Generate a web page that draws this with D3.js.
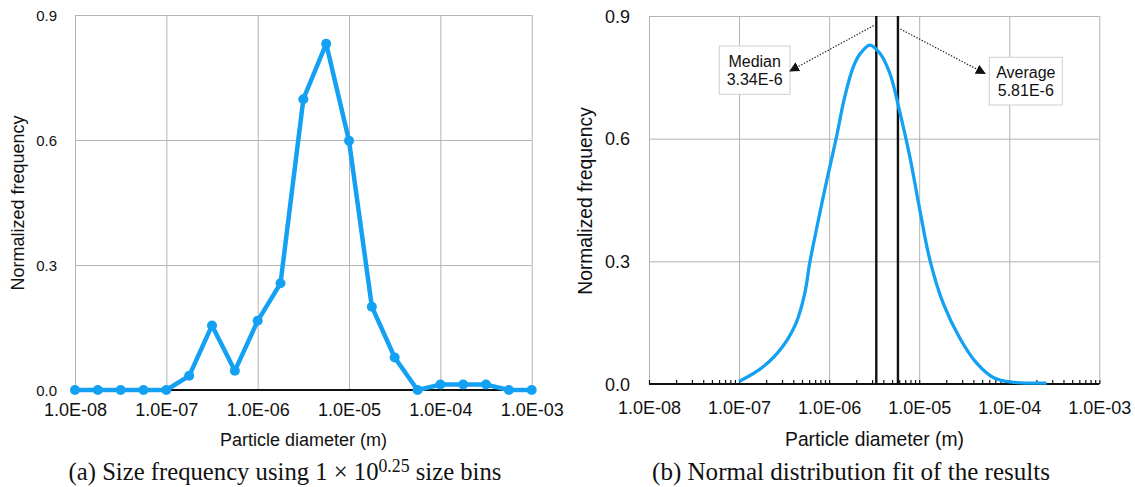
<!DOCTYPE html>
<html>
<head>
<meta charset="utf-8">
<script src="https://cdn.jsdelivr.net/npm/d3@7"></script>
<style>
  html, body { margin: 0; padding: 0; background: #fff; }
  svg { display: block; }
  text { font-family: "Liberation Sans", Arial, Helvetica, sans-serif; fill: #111; }
</style>
</head>
<body>
<svg id="chart" width="1135" height="487"></svg>
<script>
// ---------------- DATA ----------------
// (a) size-bin histogram (bins of 10^0.25)
const binDiameters = [1e-8, 1.778e-8, 3.162e-8, 5.623e-8, 1e-7, 1.778e-7, 3.162e-7, 5.623e-7,
  1e-6, 1.778e-6, 3.162e-6, 5.623e-6, 1e-5, 1.778e-5, 3.162e-5, 5.623e-5,
  1e-4, 1.778e-4, 3.162e-4, 5.623e-4, 1e-3];
const binFrequency = [0, 0, 0, 0, 0, 0.034, 0.155, 0.046, 0.166, 0.256, 0.698, 0.831,
  0.598, 0.200, 0.078, 0, 0.013, 0.013, 0.013, 0, 0];

// (b) fitted distribution
const fitDiameters = [1e-7, 1.85e-7, 3.08e-7, 4.35e-7, 5.37e-7, 6.1e-7, 7.55e-7, 9.35e-7,
  1.19e-6, 1.49e-6, 1.85e-6, 2.2e-6, 2.83e-6, 3.66e-6, 4.72e-6, 6.1e-6, 7.89e-6,
  1e-5, 1.31e-5, 1.85e-5, 2.83e-5, 4.35e-5, 6.64e-5, 1.02e-4, 2.6e-4];
const fitFrequency = [0.006, 0.042, 0.093, 0.152, 0.222, 0.297, 0.398, 0.495,
  0.598, 0.702, 0.775, 0.807, 0.829, 0.809, 0.760, 0.665, 0.555,
  0.434, 0.305, 0.197, 0.112, 0.051, 0.016, 0.005, 0.002];

const medianValue = 3.34e-6;
const averageValue = 5.81e-6;
const annotationLabels = [["Median", "3.34E-6"], ["Average", "5.81E-6"]];

const xTickValues = [1e-8, 1e-7, 1e-6, 1e-5, 1e-4, 1e-3];
const xTickLabels = ["1.0E-08", "1.0E-07", "1.0E-06", "1.0E-05", "1.0E-04", "1.0E-03"];
const yTickValues = [0, 0.3, 0.6, 0.9];
const yTickLabels = ["0.0", "0.3", "0.6", "0.9"];
const xTitle = "Particle diameter (m)";
const yTitle = "Normalized frequency";

// ---------------- DRAW ----------------
const svg = d3.select("#chart");
const BLUE = "#14a0f3";
const GRID = "#b4b4b4";

function panel(cfg) {
  const g = svg.append("g");
  const x = d3.scaleLog().domain([1e-8, 1e-3]).range([cfg.x0, cfg.x1]);
  const y = d3.scaleLinear().domain([0, 0.9]).range([cfg.y0, cfg.y1]);

  g.append("g")
    .attr("transform", `translate(0,${cfg.y0})`)
    .call(d3.axisBottom(x).tickValues(xTickValues).tickSize(-(cfg.y0 - cfg.y1)).tickFormat(""))
    .call(a => a.select(".domain").remove())
    .call(a => a.selectAll("line").attr("stroke", GRID).attr("stroke-width", 1));
  g.append("g")
    .attr("transform", `translate(${cfg.x0},0)`)
    .call(d3.axisLeft(y).tickValues(yTickValues.slice(1)).tickSize(-(cfg.x1 - cfg.x0)).tickFormat(""))
    .call(a => a.select(".domain").remove())
    .call(a => a.selectAll("line").attr("stroke", GRID).attr("stroke-width", 1));

  if (cfg.minor) {
    const minor = [];
    xTickValues.slice(0, -1).forEach(d => { for (let m = 2; m <= 9; m++) minor.push(d * m); });
    g.append("g")
      .attr("transform", `translate(0,${cfg.y0})`)
      .call(d3.axisBottom(x).tickValues(minor.concat(xTickValues)).tickSize(-4).tickFormat(""))
      .call(a => a.select(".domain").remove())
      .call(a => a.selectAll("line").attr("stroke", "#111").attr("stroke-width", 1.2));
  }

  g.append("line")
    .attr("x1", cfg.x0).attr("x2", cfg.x1)
    .attr("y1", y(0)).attr("y2", y(0))
    .attr("stroke", "#111").attr("stroke-width", 2);

  const xa = g.append("g")
    .attr("transform", `translate(0,${cfg.y0})`)
    .call(d3.axisBottom(x).tickValues(xTickValues).tickSize(0)
      .tickFormat((d, i) => xTickLabels[i]));
  xa.select(".domain").remove();
  xa.selectAll("text").attr("y", cfg.xLabOff).attr("dy", "0.35em")
    .style("font-size", cfg.xFont + "px").style("fill", "#111")
    .style("font-family", '"Liberation Sans", Arial, sans-serif');

  const ya = g.append("g")
    .attr("transform", `translate(${cfg.yLabRight},0)`)
    .call(d3.axisLeft(y).tickValues(yTickValues).tickSize(0)
      .tickFormat((d, i) => yTickLabels[i]));
  ya.select(".domain").remove();
  ya.selectAll("text").attr("x", 0).attr("dy", "0.35em")
    .style("font-size", cfg.yFont + "px").style("fill", "#111")
    .style("font-family", '"Liberation Sans", Arial, sans-serif');

  g.append("text").attr("x", cfg.xTitleX).attr("y", cfg.xTitleY).attr("dy", "0.35em")
    .attr("text-anchor", "middle").style("font-size", cfg.titleFont + "px").text(xTitle);
  g.append("text")
    .attr("transform", `translate(${cfg.yTitleX},${cfg.yTitleY}) rotate(-90)`)
    .attr("dy", "0.35em").attr("text-anchor", "middle")
    .style("font-size", cfg.titleFont + "px").text(yTitle);

  return { g, x, y };
}

// ---- Panel (a)
const A = panel({ x0: 75, x1: 531.7, y0: 390, y1: 15, xLabOff: 20, xFont: 18, yFont: 15,
  yLabRight: 57, xTitleX: 303.5, xTitleY: 440, yTitleX: 18, yTitleY: 203, titleFont: 18 });
const lineA = d3.line().x((d, i) => A.x(binDiameters[i])).y(d => A.y(d));
A.g.append("path").datum(binFrequency)
  .attr("d", lineA).attr("fill", "none").attr("stroke", BLUE)
  .attr("stroke-width", 4.5).attr("stroke-linejoin", "round");
A.g.selectAll("circle.pt").data(binFrequency).join("circle")
  .attr("cx", (d, i) => A.x(binDiameters[i])).attr("cy", d => A.y(d))
  .attr("r", 5).attr("fill", BLUE);

// ---- Panel (b)
const B = panel({ x0: 649, x1: 1099.3, y0: 384, y1: 16, xLabOff: 24, xFont: 18, yFont: 18,
  yLabRight: 630, xTitleX: 874.5, xTitleY: 439, yTitleX: 585, yTitleY: 201, titleFont: 19.3, minor: true });

[medianValue, averageValue].forEach(v => {
  B.g.append("line")
    .attr("x1", B.x(v)).attr("x2", B.x(v)).attr("y1", B.y(0)).attr("y2", B.y(0.9))
    .attr("stroke", "#111").attr("stroke-width", 2.4);
});

const lineB = d3.line().curve(d3.curveCatmullRom.alpha(0.5))
  .x((d, i) => B.x(fitDiameters[i])).y(d => B.y(d));
B.g.append("path").datum(fitFrequency)
  .attr("d", lineB).attr("fill", "none").attr("stroke", BLUE)
  .attr("stroke-width", 3.3).attr("stroke-linecap", "butt");

// annotations
const defs = svg.append("defs");
defs.append("marker").attr("id", "arrow").attr("viewBox", "0 0 10 10")
  .attr("refX", 9).attr("refY", 5).attr("markerWidth", 10).attr("markerHeight", 10)
  .attr("markerUnits", "userSpaceOnUse").attr("orient", "auto")
  .append("path").attr("d", "M0,0 L10,5 L0,10 Z").attr("fill", "#111");

const annos = [
  { from: [B.x(medianValue), B.y(0.88)], to: [790, 71], box: [719.3, 46, 70.7, 48.3], lab: annotationLabels[0] },
  { from: [B.x(averageValue) + 2.5, B.y(0.868)], to: [985, 73.5], box: [989.3, 57.3, 73, 47.7], lab: annotationLabels[1] }
];
annos.forEach(a => {
  B.g.append("rect").attr("x", a.box[0]).attr("y", a.box[1]).attr("width", a.box[2]).attr("height", a.box[3])
    .attr("fill", "#fff").attr("stroke", "#cfcfcf").attr("stroke-width", 1);
  B.g.append("line")
    .attr("x1", a.from[0]).attr("y1", a.from[1]).attr("x2", a.to[0]).attr("y2", a.to[1])
    .attr("stroke", "#222").attr("stroke-width", 1.2).attr("stroke-dasharray", "1.4,1.6")
    .attr("marker-end", "url(#arrow)");
  const cx = a.box[0] + a.box[2] / 2;
  const cy = a.box[1] + a.box[3] / 2;
  B.g.append("text").attr("x", cx).attr("y", cy - 8.5).attr("dy", "0.35em")
    .attr("text-anchor", "middle").style("font-size", "16px").text(a.lab[0]);
  B.g.append("text").attr("x", cx).attr("y", cy + 9.5).attr("dy", "0.35em")
    .attr("text-anchor", "middle").style("font-size", "16px").text(a.lab[1]);
});

// captions
function caption(cx, cy, targetW, parts) {
  const t = svg.append("text").attr("x", cx).attr("y", cy).attr("dy", "0.35em")
    .attr("text-anchor", "middle")
    .style("font-family", '"Liberation Serif", "DejaVu Serif", serif')
    .style("font-size", "18px");
  parts.forEach(p => {
    const ts = t.append("tspan").text(p.t);
    if (p.sup) ts.attr("dy", "-0.45em").style("font-size", "0.72em");
    if (p.after) ts.attr("dy", "0.32em");
  });
  const w = t.node().getComputedTextLength();
  t.style("font-size", (18 * targetW / w) + "px");
}
caption(285, 471, 433, [
  { t: "(a)  Size frequency using 1 × 10" },
  { t: "0.25", sup: true },
  { t: " size bins", after: true }
]);
caption(851, 471, 398, [{ t: "(b)  Normal distribution fit of the results" }]);
</script>
</body>
</html>
